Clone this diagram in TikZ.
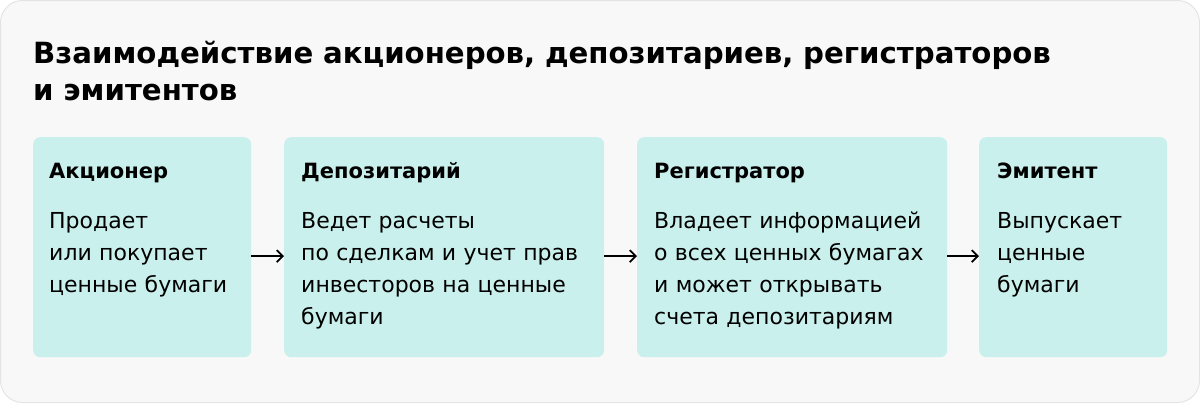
\documentclass[tikz,border=0pt]{standalone}
\usepackage{fontspec}
\setmainfont{DejaVu Sans}
\usetikzlibrary{arrows.meta,positioning}

\definecolor{panelbg}{HTML}{F8F8F8}
\definecolor{panelline}{HTML}{E4E4E4}
\definecolor{cardfill}{HTML}{C9F0EC}

\tikzset{
  card/.style={fill=cardfill, rounded corners=7pt, inner sep=0pt,
    anchor=north west, minimum height=220pt},
  head/.style={anchor=base west, inner sep=0pt,
    font=\fontsize{21}{32}\selectfont\bfseries},
  body/.style={anchor=base west, inner sep=0pt, align=left, text width=290pt,
    font=\fontsize{22}{32}\selectfont},
  link/.style={-{Straight Barb[length=6pt,width=12pt]}, line width=1.8pt}
}

\begin{document}
\begin{tikzpicture}[x=1pt, y=-1pt]
\useasboundingbox (0,0) rectangle (1200,405);
\draw[panelline, fill=panelbg, line width=1pt, rounded corners=22pt] (0.5,0.5) rectangle (1199.5,402.5);

% title
\node[anchor=base west, inner sep=0pt, align=left, text width=1150pt,
  font=\fontsize{29.2}{37}\selectfont\bfseries] (title) at (33,63)
  {Взаимодействие акционеров, депозитариев, регистраторов\\и эмитентов};

% cards
\node[card, minimum width=218pt] (akc) at (33,137) {};
\node[card, minimum width=320pt] (dep) at (284,137) {};
\node[card, minimum width=310pt] (reg) at (637,137) {};
\node[card, minimum width=188pt] (emi) at (979,137) {};

\node[head] (akcH) at (49,178) {Акционер};
\node[body] (akcT) at (49,228) {Продает\\или покупает\\ценные бумаги};

\node[head] (depH) at (301,178) {Депозитарий};
\node[body] (depT) at (301,228) {Ведет расчеты\\по сделкам и учет прав\\инвесторов на ценные\\бумаги};

\node[head] (regH) at (654,178) {Регистратор};
\node[body] (regT) at (654,228) {Владеет информацией\\о всех ценных бумагах\\и может открывать\\счета депозитариям};

\node[head] (emiH) at (997,178) {Эмитент};
\node[body] (emiT) at (997,228) {Выпускает\\ценные\\бумаги};

% links
\draw[link] ([yshift=-9pt]akc.east) -- ([yshift=-9pt]dep.west);
\draw[link] ([yshift=-9pt]dep.east) -- ([yshift=-9pt]reg.west);
\draw[link] ([yshift=-9pt]reg.east) -- ([yshift=-9pt]emi.west);
\end{tikzpicture}
\end{document}
